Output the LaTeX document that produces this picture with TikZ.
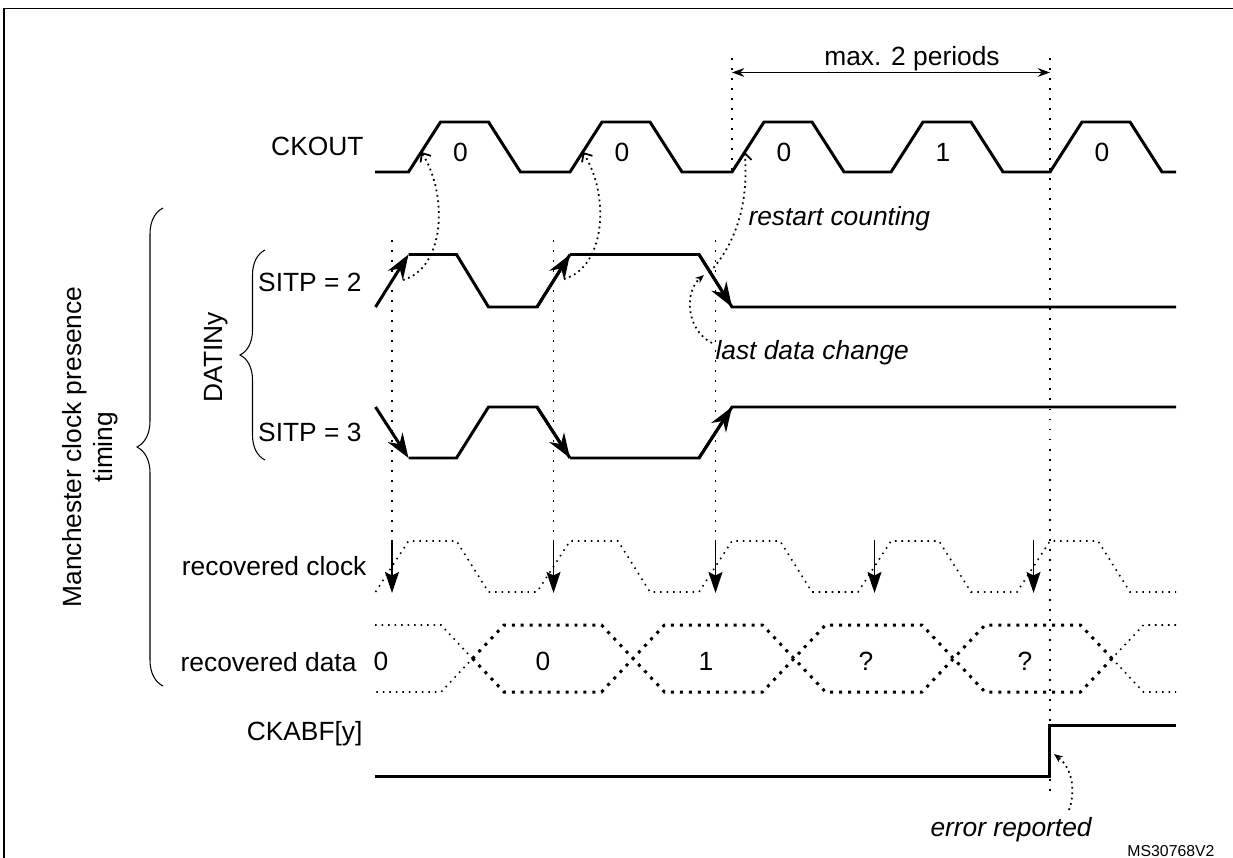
\documentclass[tikz,border=0pt]{standalone}
\usepackage{fontspec}
\setmainfont{Liberation Sans}
\usepackage{tikz}
\usetikzlibrary{
	arrows.meta,
	decorations.pathreplacing
}
\tikzset{every path/.append style={line width=0.6pt}}
\tikzset{
	wave/.style={line width=1.7pt},
	vdots/.style={line width=1.1pt,dash pattern=on 1.1pt off 4.6pt},
	fdots/.style={line width=0.9pt,dash pattern=on 0.9pt off 2.8pt},
	bdots/.style={line width=1.7pt,dash pattern=on 1.7pt off 3.4pt},
	cue/.style={line width=1pt,dash pattern=on 1pt off 2.1pt},
	lbl/.style={inner sep=0pt,font=\fontsize{15}{18}\selectfont},
	note/.style={inner sep=0pt,font=\fontsize{15}{18}\selectfont\itshape},
	edgearrow/.style={wave,-{Stealth[length=14pt,width=10pt]}},
	samplearrow/.style={line width=0.8pt,-{Stealth[length=12pt,width=8pt,inset=2pt]}},
	brc/.style={decorate,decoration={brace,amplitude=#1}}
}
\newcommand{\tikzPt}[2]{\coordinate (#2) at #1;}

\begin{document}
\begin{tikzpicture}[x=0.02cm,y=-0.02cm]
	\useasboundingbox (0,0) rectangle (1233,858);
	% frame
	\draw[line width=1.1pt] (4,858) -- (4,8.5) -- (1233,8.5);

	% signal names
	\node[lbl,anchor=base east] (ckout) at (364,156) {CKOUT};
	\node[lbl,anchor=base east] (sitp2) at (362,291) {SITP = 2};
	\node[lbl,anchor=base east] (sitp3) at (362,441) {SITP = 3};
	\node[lbl,anchor=base,rotate=90] (datin) at (222,357) {DATINy};
	\node[lbl,rotate=90,align=center] (mcp) at (90,447) {Manchester clock presence\\timing};
	\node[lbl,anchor=base east] (rclk) at (367,575) {recovered clock};
	\node[lbl,anchor=base east] (rdat) at (357,671) {recovered data};
	\node[lbl,anchor=base east] (ckabf) at (363,740) {CKABF[y]};

	\draw[brc=0.52cm] (163,686) -- (163,208);
	\draw[brc=0.5cm] (265,460) -- (265,250);

	% CKOUT
	\draw[wave] (375,172) -- (408.5,172) -- (440.5,122) -- (488.5,122) -- (520.5,172) -- (570,172) -- (602,122) -- (650,122) -- (682,172) -- (732,172) -- (764,122) -- (812,122) -- (844,172) -- (891,172) -- (923,122) -- (971,122) -- (1003,172) -- (1050,172) -- (1082,122) -- (1130,122) -- (1162,172) -- (1176,172);
	\node[lbl,anchor=base] (b1) at (460.5,162) {0};
	\node[lbl,anchor=base] (b2) at (622,162) {0};
	\node[lbl,anchor=base] (b3) at (784,162) {0};
	\node[lbl,anchor=base] (b4) at (943,162) {1};
	\node[lbl,anchor=base] (b5) at (1102,162) {0};

	% max. 2 periods
	\tikzPt{(732,72.5)}{m1}
	\tikzPt{(1050,72.5)}{m2}
	\draw[vdots] (732,58) -- (732,178);
	\draw[vdots] (1050,58) -- (1050,795);
	\draw[{Stealth[length=7pt,width=5pt]}-{Stealth[length=7pt,width=5pt]}] (m1) -- (m2);
	\node[lbl,anchor=base] (maxp) at (912,66) {max. 2 periods};

	% DATINy, SITP = 2
	\draw[edgearrow] (375.5,307) -- (408.5,254.5);
	\draw[wave] (408.5,254.5) -- (456.5,254.5) -- (488.5,307) -- (537,307) -- (570,254.5);
	\draw[edgearrow] (537,307) -- (570,254.5);
	\draw[wave] (570,254.5) -- (699,254.5) -- (732,307) -- (1176,307);
	\draw[edgearrow] (699,254.5) -- (732,307);

	% DATINy, SITP = 3
	\draw[edgearrow] (375.5,407) -- (408.5,458);
	\draw[wave] (408.5,458) -- (456.5,458) -- (488.5,407) -- (537,407) -- (570,458);
	\draw[edgearrow] (537,407) -- (570,458);
	\draw[wave] (570,458) -- (699,458) -- (732,407) -- (1176,407);
	\draw[edgearrow] (699,458) -- (732,407);

	% CKOUT edge cues
	\tikzPt{(421.3,152)}{ck1}
	\tikzPt{(582.8,152)}{ck2}
	\tikzPt{(744.8,152)}{ck3}
	\tikzPt{(403,280)}{dt1}
	\tikzPt{(564,279)}{dt2}
	\tikzPt{(710,272)}{dt3}
	\draw[cue,-{Straight Barb[length=4pt,width=7pt]}] (dt1) .. controls +(42,-12) and +(27,43) .. (ck1);
	\draw[cue,-{Straight Barb[length=4pt,width=7pt]}] (dt2) .. controls +(42,-12) and +(27,43) .. (ck2);
	\draw[cue,-{Straight Barb[length=4pt,width=7pt]}] (dt3) .. controls +(15,-17) and +(5,68) .. (ck3);
	\node[note,anchor=base west] (rst) at (748,225) {restart counting};

	\tikzPt{(712,343)}{ldc}
	\tikzPt{(704,275)}{fe3}
	\draw[cue,-{Stealth[length=5pt,width=4pt]}] (ldc) .. controls (686,330) and (684,292) .. (fe3);
	\node[note,anchor=base west] (last) at (715,359) {last data change};

	% sampling points
	\draw[vdots] (392,240) -- (392,540);
	\draw[vdots] (553.5,240) -- (553.5,540);
	\draw[vdots] (715.5,240) -- (715.5,540);
	\draw[samplearrow] (392,540) -- (392,593);
	\draw[samplearrow] (553.5,540) -- (553.5,593);
	\draw[samplearrow] (715.5,540) -- (715.5,593);
	\draw[samplearrow] (874.5,540) -- (874.5,593);
	\draw[samplearrow] (1033.5,540) -- (1033.5,593);

	% recovered clock
	\draw[fdots] (375.5,592) -- (408.5,541) -- (456.5,541) -- (488.5,592) -- (537,592) -- (570,541) -- (618,541) -- (650,592) -- (699,592) -- (732,541) -- (780,541) -- (812,592) -- (858,592) -- (891,541) -- (939,541) -- (971,592) -- (1017,592) -- (1050,541) -- (1098,541) -- (1130,592) -- (1176,592);

	% recovered data
	\draw[fdots] (375,625) -- (441,625) -- (472.5,658.5) -- (441,692) -- (375,692);
	\draw[bdots] (472.5,658.5) -- (504,692) -- (601.5,692) -- (664.5,625) -- (762.5,625) -- (825.5,692) -- (922,692) -- (985,625) -- (1080.5,625) -- (1112,658.5);
	\draw[bdots] (472.5,658.5) -- (504,625) -- (601.5,625) -- (664.5,692) -- (762.5,692) -- (825.5,625) -- (922,625) -- (985,692) -- (1080.5,692) -- (1112,658.5);
	\draw[fdots] (1176,625) -- (1143.5,625) -- (1112,658.5) -- (1143.5,692) -- (1176,692);
	\node[lbl,anchor=base] (d1) at (381,670) {0};
	\node[lbl,anchor=base] (d2) at (543,670) {0};
	\node[lbl,anchor=base] (d3) at (706,670) {1};
	\node[lbl,anchor=base] (d4) at (866,670) {?};
	\node[lbl,anchor=base] (d5) at (1025,670) {?};

	% CKABF[y]
	\draw[wave] (375,776) -- (1049,776) -- (1049,725) -- (1176,725);
	\tikzPt{(1069,810)}{err}
	\tikzPt{(1054,754)}{re}
	\draw[cue,-{Stealth[length=5pt,width=4pt]}] (err) .. controls (1076,790) and (1072,768) .. (re);
	\node[note,anchor=base west] (errrep) at (930,836) {error reported};

	\node[inner sep=0pt,font=\fontsize{9}{11}\selectfont,anchor=base east] (ref) at (1215,856) {MS30768V2};
\end{tikzpicture}
\end{document}
